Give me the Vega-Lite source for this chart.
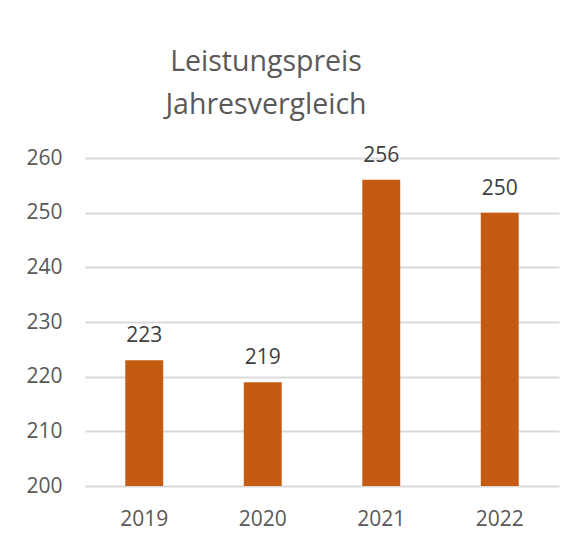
{
  "$schema": "https://vega.github.io/schema/vega-lite/v6.json",
  "autosize": "none",
  "width": 474,
  "height": 328,
  "padding": {"left": 85, "top": 158, "right": 24, "bottom": 54},
  "background": "white",
  "title": {
    "text": ["Leistungspreis", "Jahresvergleich"],
    "font": "Open Sans",
    "fontSize": 28.5,
    "fontWeight": "normal",
    "color": "#595959",
    "lineHeight": 43,
    "anchor": "middle",
    "dx": -56,
    "offset": 25
  },
  "data": {
    "values": [
      {"Jahr": "2019", "Wert": 223},
      {"Jahr": "2020", "Wert": 219},
      {"Jahr": "2021", "Wert": 256},
      {"Jahr": "2022", "Wert": 250}
    ]
  },
  "encoding": {
    "x": {
      "field": "Jahr",
      "type": "nominal",
      "scale": {"paddingInner": 0, "paddingOuter": 0},
      "axis": {
        "title": null,
        "labelAngle": 0,
        "domain": false,
        "ticks": false,
        "labelPadding": 22,
        "labelFont": "Open Sans",
        "labelFontSize": 21,
        "labelColor": "#595959"
      }
    },
    "y": {
      "field": "Wert",
      "type": "quantitative",
      "scale": {"domain": [200, 260], "zero": false, "nice": false},
      "axis": {
        "title": null,
        "values": [200, 210, 220, 230, 240, 250, 260],
        "domain": false,
        "ticks": false,
        "labelPadding": 23,
        "labelFont": "Open Sans",
        "labelFontSize": 21,
        "labelColor": "#595959",
        "gridColor": "#D9D9D9",
        "gridWidth": 2
      }
    }
  },
  "layer": [
    {
      "mark": {"type": "bar", "color": "#C55A11", "width": {"band": 0.32}},
      "encoding": {"y2": {"datum": 200}}
    },
    {
      "mark": {
        "type": "text",
        "baseline": "alphabetic",
        "dy": -18,
        "font": "Open Sans",
        "fontSize": 21,
        "color": "#404040"
      },
      "encoding": {"text": {"field": "Wert", "type": "quantitative"}}
    }
  ],
  "config": {"view": {"stroke": null}}
}
